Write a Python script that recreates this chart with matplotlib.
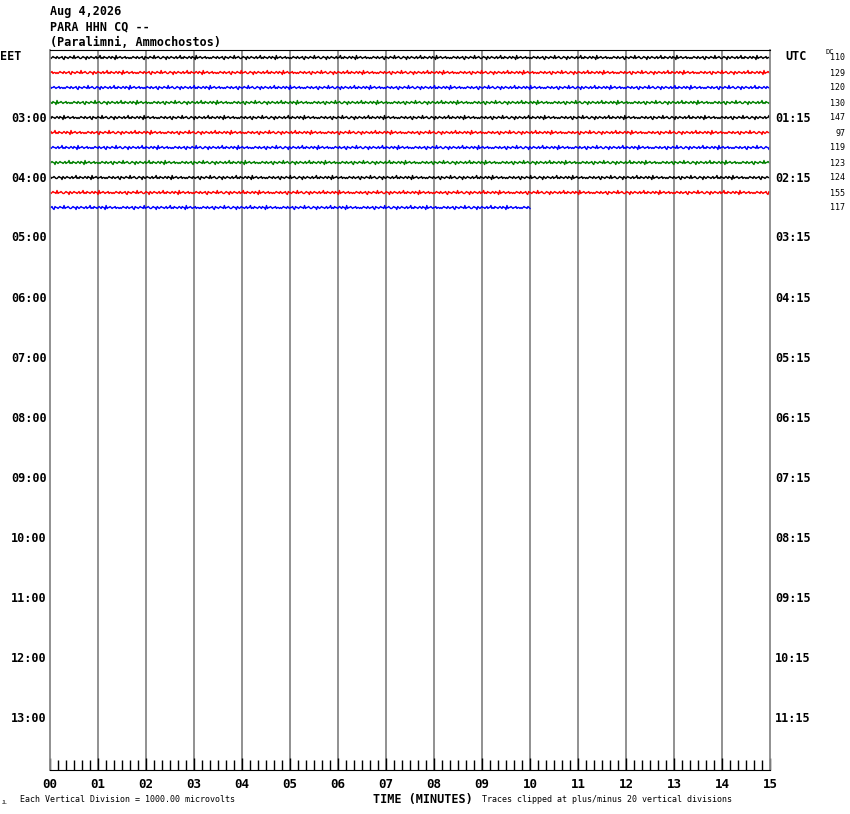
import numpy as np
import matplotlib
matplotlib.use("Agg")
import matplotlib.pyplot as plt

# helikorder-data
dato = "Aug 4,2026"
stasjon = "PARA HHN CQ --"
sted = "(Paralimni, Ammochostos)"

farger = ["black", "red", "blue", "green"]
dc_verdier = [110, 129, 120, 130, 147, 97, 119, 123, 124, 155, 117]
# minutter med data per rad (siste rad slutter ved 10 min)
rad_lengde = [15, 15, 15, 15, 15, 15, 15, 15, 15, 15, 10]
venstre_tider = ["03:00", "04:00", "05:00", "06:00", "07:00", "08:00",
                 "09:00", "10:00", "11:00", "12:00", "13:00"]
hoyre_tider = ["01:15", "02:15", "03:15", "04:15", "05:15", "06:15",
               "07:15", "08:15", "09:15", "10:15", "11:15"]
x_etiketter = ["00", "01", "02", "03", "04", "05", "06", "07",
               "08", "09", "10", "11", "12", "13", "14", "15"]

# håndlest støymønster (piksler)
stoy = [0, 1, 0, -1, 0, 0, 1, -1, 0, 1, 0, 0, -1, 1, 2, -1, 0, 0, 1, 0,
        -1, 0, 0, 1, -2, 1, 0, 0, -1, 0, 1, 1, 0, -1, 0, 0, 2, -1, 0, 1,
        0, -1, 0, 0, 1, 0, -1, 1, 0, 0, -2, 1, 0, 1, -1, 0, 0, 1, 0, -1,
        0, 1, -1, 0, 0, 2, -2, 1, 0, 0, -1, 0, 1, 0, 0, -1, 1, 0, 0, 1]

B, H = 850, 814
fig = plt.figure(figsize=(B / 100, H / 100), dpi=100)
ax = fig.add_axes([50 / B, 1 - 770 / H, 720 / B, 720 / H])

px_per_rad = 15.0
n_rader = 48
ax.set_xlim(0, 15)
ax.set_ylim(n_rader - 0.5, -0.5)

for m in range(1, 15):
    ax.axvline(m, color="#888888", lw=1.3, zorder=1)

for i, (dc, lengde) in enumerate(zip(dc_verdier, rad_lengde)):
    n = int(lengde * 48)
    y = np.resize(np.roll(stoy, i * 7), n) / px_per_rad
    x = np.linspace(0, lengde, n)
    ax.plot(x, i + y, color=farger[i % 4], lw=1.0, zorder=2)

ax.set_xticks(range(16))
ax.set_xticks(np.arange(0, 15, 1 / 6), minor=True)
ax.set_xticklabels(x_etiketter, fontfamily="DejaVu Sans Mono",
                   fontweight="bold", fontsize=9)
ax.tick_params(axis="x", which="major", direction="in", length=9, width=1, pad=6)
ax.tick_params(axis="x", which="minor", direction="in", length=7, width=1)
ax.set_yticks([])
for s in ["left", "right"]:
    ax.spines[s].set_color("#888888")
    ax.spines[s].set_linewidth(1.3)
ax.spines["top"].set_color("black")
ax.spines["bottom"].set_color("black")


def px(x, y):
    return x / B, 1 - y / H


mono = dict(fontfamily="DejaVu Sans Mono", fontweight="bold")
fig.text(*px(50, 12), dato, fontsize=8.5, va="center", ha="left", **mono)
fig.text(*px(50, 27), stasjon, fontsize=8.5, va="center", ha="left", **mono)
fig.text(*px(50, 42), sted, fontsize=8.5, va="center", ha="left", **mono)

fig.text(*px(0, 57), "EET", fontsize=8.5, va="center", ha="left", **mono)
fig.text(*px(785, 57), "UTC", fontsize=8.5, va="center", ha="left", **mono)
fig.text(*px(825, 52), "DC", fontsize=5, va="center", ha="left",
         fontfamily="DejaVu Sans Mono")

for k, (v, h) in enumerate(zip(venstre_tider, hoyre_tider)):
    rad = 4 * (k + 1)
    y = 58 + rad * px_per_rad
    fig.text(*px(47, y), v, fontsize=8.5, va="center", ha="right", **mono)
    fig.text(*px(775, y), h, fontsize=8.5, va="center", ha="left", **mono)

for i, dc in enumerate(dc_verdier):
    fig.text(*px(845, 58 + i * px_per_rad), str(dc), fontsize=6,
             va="center", ha="right", fontfamily="DejaVu Sans Mono")

fig.text(*px(373, 799), "TIME (MINUTES)", fontsize=8.5, va="center",
         ha="left", **mono)
fig.text(*px(20, 800), "Each Vertical Division = 1000.00 microvolts",
         fontsize=6, va="center", ha="left", fontfamily="DejaVu Sans Mono")
fig.text(*px(482, 800), "Traces clipped at plus/minus 20 vertical divisions",
         fontsize=6, va="center", ha="left", fontfamily="DejaVu Sans Mono")
fig.text(*px(2, 802), "JL", fontsize=3.5, va="center", ha="left",
         fontfamily="DejaVu Sans Mono")

fig.savefig("out.png", dpi=100)
